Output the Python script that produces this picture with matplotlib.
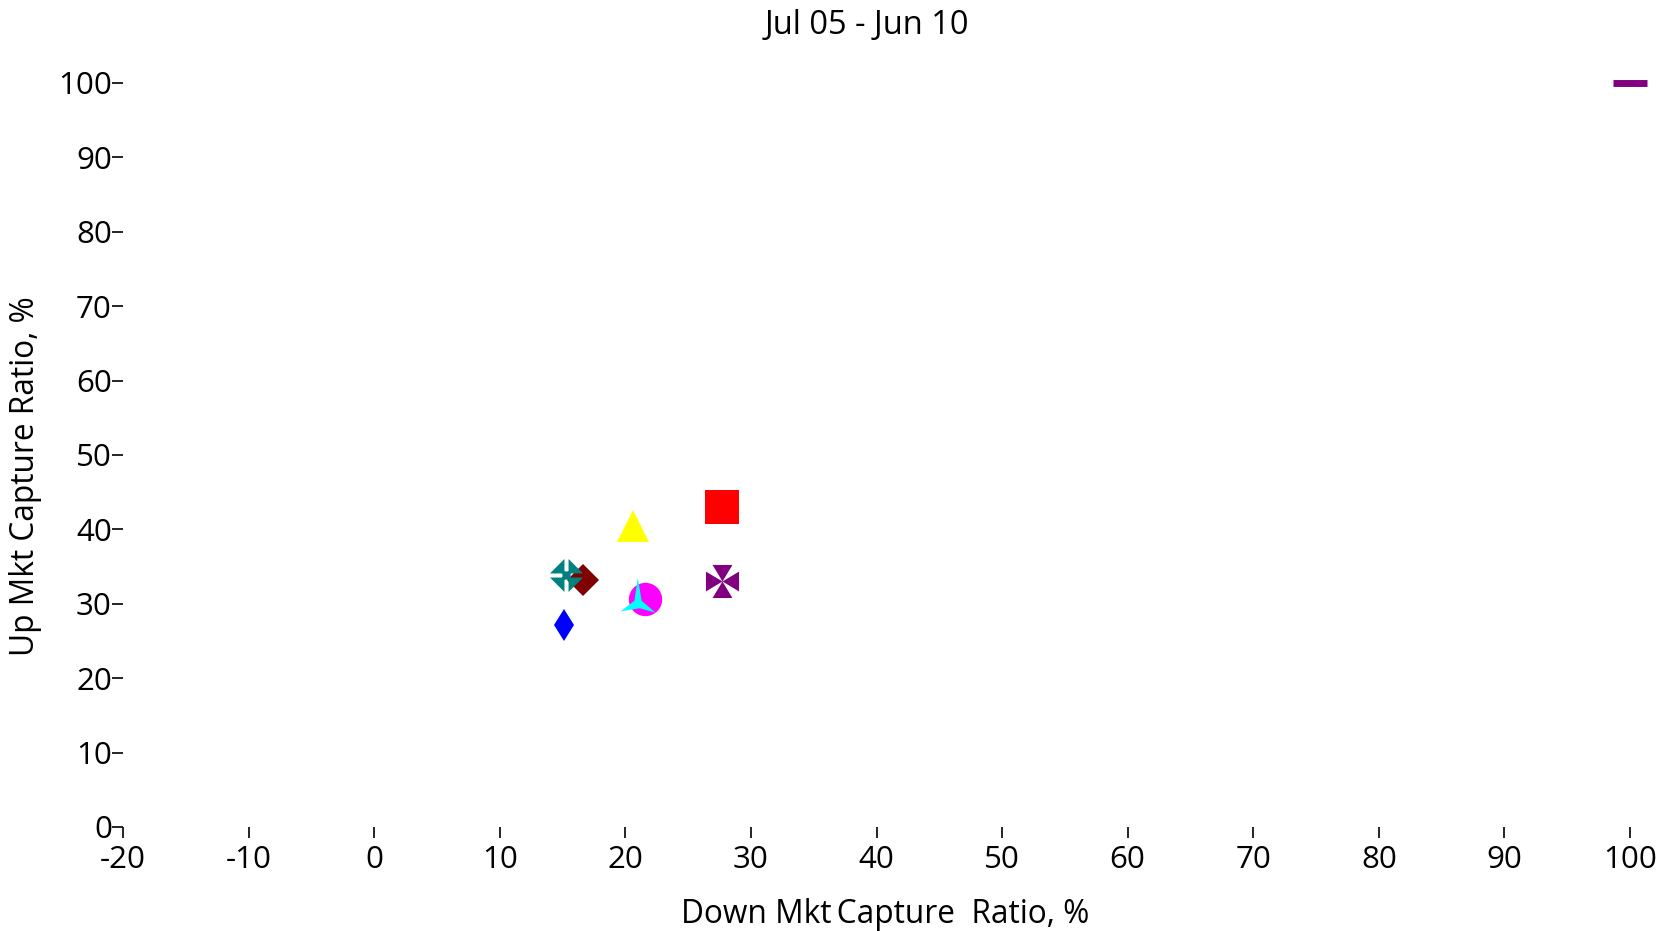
import matplotlib
matplotlib.use('Agg')
import matplotlib.pyplot as plt
import numpy as np
from matplotlib.path import Path

# podaci: down / up capture ratio (%)
down_capture = [27.7, 20.6, 16.65, 15.3, 27.7, 21.6, 21.0, 15.1, 100.0]
up_capture = [43.0, 40.4, 33.2, 33.9, 33.0, 30.6, 30.1, 27.1, 100.0]

x_ticks = [-20, -10, 0, 10, 20, 30, 40, 50, 60, 70, 80, 90, 100]
y_ticks = [0, 10, 20, 30, 40, 50, 60, 70, 80, 90, 100]

title_text = 'Jul 05 - Jun 10'
x_title = 'Down Mkt\u2009Capture  Ratio, %'
y_title = 'Up Mkt Capture Ratio, %'


def poly_path(polys):
    verts, codes = [], []
    for p in polys:
        verts += p + [p[0]]
        codes += [Path.MOVETO] + [Path.LINETO] * (len(p) - 1) + [Path.CLOSEPOLY]
    return Path(verts, codes)


# teal: romb razdijeljen bijelim krizem + kvadratic u sredini
g = 0.11
s = 0.22
teal_path = poly_path([
    [(g, g), (1 - g, g), (g, 1 - g)],
    [(-g, g), (-g, 1 - g), (-(1 - g), g)],
    [(-g, -g), (-(1 - g), -g), (-g, -(1 - g))],
    [(g, -g), (g, -(1 - g)), (1 - g, -g)],
    [(-s, -s), (s, -s), (s, s), (-s, s)],
])

# ljubicasti malteski kriz
a = 0.6
cross_path = poly_path([
    [(0, 0), (a, 1), (-a, 1)],
    [(0, 0), (-1, a), (-1, -a)],
    [(0, 0), (-a, -1), (a, -1)],
    [(0, 0), (1, -a), (1, a)],
])

# cyan zvijezda s tri kraka
star_path = poly_path([
    [(-2, 75), (-12, 8), (-52, -23), (4, -14), (50, -27), (9, 8)],
])

markers = ['s', '^', 'D', teal_path, cross_path, 'o', star_path, 'd', '_']
colors = ['#FF0000', '#FFFF00', '#800000', '#008080', '#800080',
          '#FF00FF', '#00FFFF', '#0000FF', '#800080']
sizes = [24.5, 23.5, 16.8, 23.8, 23.8, 24, 37, 16.8, 24.5]

plt.rcParams['font.family'] = ['Open Sans', 'DejaVu Sans']
plt.rcParams['axes.unicode_minus'] = False

fig = plt.figure(figsize=(16.71, 9.31), dpi=100)
ax = fig.add_axes([123 / 1671, 1 - 827 / 931, 1507 / 1671, 744 / 931])

for xv, yv, m, c, ms in zip(down_capture, up_capture, markers, colors, sizes):
    ax.plot([xv], [yv], linestyle='none', marker=m, color=c, markersize=ms,
            markeredgewidth=5 if m == '_' else 0, clip_on=False)

ax.set_xlim(-20, 100)
ax.set_ylim(0, 100)
ax.set_xticks(x_ticks)
ax.set_yticks(y_ticks)
for sp in ax.spines.values():
    sp.set_visible(False)
ax.tick_params(axis='both', direction='out', length=8, width=1.2,
               labelsize=22.5, colors='black')
ax.tick_params(axis='y', pad=0)
ax.tick_params(axis='x', pad=5)

ax.set_xlabel(x_title, fontsize=22.8)
ax.xaxis.set_label_coords(0.506, -0.117)
ax.xaxis.label.set_va('center')
ax.set_ylabel(y_title, fontsize=22.8)
ax.yaxis.set_label_coords(-0.065, 0.472)
ax.yaxis.label.set_va('center')

fig.text(867 / 1671, 1 - 26 / 931, title_text, ha='center', va='center', fontsize=23.5)

fig.savefig('out.png', dpi=100)
